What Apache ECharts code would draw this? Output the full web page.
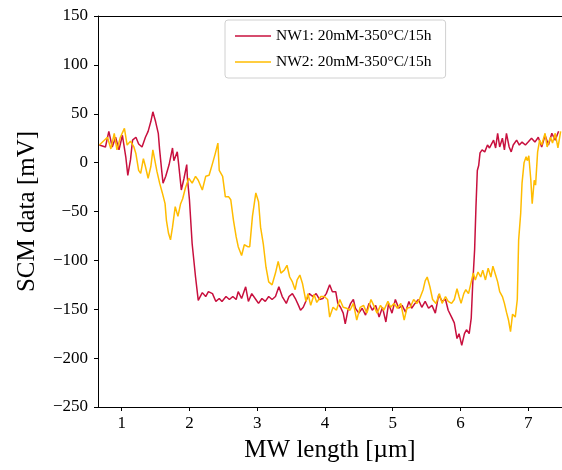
<!DOCTYPE html>
<html>
<head>
<meta charset="utf-8">
<script src="https://cdn.jsdelivr.net/npm/echarts@6/dist/echarts.min.js"></script>
<style>
  html, body { margin: 0; padding: 0; background: #fff; }
  #main { width: 562px; height: 470px; }
</style>
</head>
<body>
<div id="main"></div>
<script>
// NW1 trace (red)
var nw1X = [0.67, 0.76, 0.81, 0.86, 0.91, 0.96, 1.01, 1.06, 1.09, 1.13, 1.16, 1.21, 1.25, 1.30, 1.35, 1.39, 1.43, 1.46, 1.50, 1.54, 1.56, 1.59, 1.61, 1.65, 1.70, 1.75, 1.77, 1.82, 1.84, 1.88, 1.92, 1.96, 1.97, 2.00, 2.04, 2.09, 2.13, 2.19, 2.24, 2.28, 2.34, 2.39, 2.44, 2.48, 2.54, 2.59, 2.64, 2.69, 2.72, 2.77, 2.83, 2.87, 2.92, 2.98, 3.02, 3.07, 3.12, 3.17, 3.22, 3.27, 3.32, 3.37, 3.43, 3.47, 3.52, 3.57, 3.61, 3.64, 3.68, 3.73, 3.77, 3.82, 3.87, 3.92, 3.97, 4.02, 4.07, 4.11, 4.16, 4.19, 4.23, 4.27, 4.30, 4.34, 4.38, 4.42, 4.45, 4.50, 4.55, 4.60, 4.65, 4.70, 4.75, 4.80, 4.85, 4.90, 4.94, 4.99, 5.04, 5.09, 5.14, 5.19, 5.24, 5.28, 5.33, 5.38, 5.43, 5.48, 5.53, 5.58, 5.63, 5.68, 5.73, 5.78, 5.82, 5.87, 5.91, 5.95, 5.98, 6.02, 6.06, 6.09, 6.13, 6.16, 6.18, 6.21, 6.23, 6.25, 6.27, 6.29, 6.32, 6.36, 6.40, 6.43, 6.49, 6.52, 6.55, 6.58, 6.62, 6.65, 6.68, 6.72, 6.75, 6.78, 6.83, 6.87, 6.91, 6.96, 7.00, 7.05, 7.10, 7.15, 7.20, 7.25, 7.30, 7.35, 7.40, 7.45];
var nw1Y = [18, 16, 32, 16, 26, 13, 28, 6, -13, 3, 23, 26, 19, 16, 26, 32, 42, 52, 42, 30, 13, -8, -21, -14, -2, 15, 2, 11, -1, -28, -16, -2, -16, -38, -83, -117, -141, -133, -137, -132, -134, -142, -139, -142, -137, -140, -137, -140, -132, -139, -127, -142, -134, -140, -144, -139, -142, -137, -140, -137, -127, -137, -144, -137, -134, -140, -146, -151, -148, -140, -134, -137, -134, -140, -139, -134, -125, -132, -132, -144, -148, -154, -165, -151, -144, -140, -149, -154, -149, -156, -144, -151, -146, -158, -148, -163, -144, -154, -140, -149, -146, -153, -142, -149, -144, -140, -148, -142, -149, -146, -154, -135, -142, -140, -151, -158, -164, -180, -175, -187, -175, -171, -175, -159, -127, -89, -45, -8, -3, 10, 13, 11, 18, 15, 23, 15, 30, 16, 25, 13, 30, 16, 11, 18, 23, 18, 21, 18, 21, 25, 21, 26, 16, 28, 18, 30, 23, 32];

// NW2 trace (yellow)
var nw2X = [0.67, 0.79, 0.84, 0.89, 0.93, 0.98, 1.04, 1.08, 1.13, 1.18, 1.21, 1.25, 1.28, 1.32, 1.35, 1.39, 1.43, 1.46, 1.49, 1.52, 1.56, 1.60, 1.64, 1.66, 1.69, 1.72, 1.75, 1.79, 1.83, 1.87, 1.90, 1.94, 1.99, 2.04, 2.09, 2.13, 2.19, 2.24, 2.29, 2.34, 2.38, 2.42, 2.44, 2.49, 2.53, 2.58, 2.61, 2.65, 2.69, 2.72, 2.77, 2.81, 2.86, 2.89, 2.93, 2.98, 3.02, 3.05, 3.09, 3.13, 3.17, 3.22, 3.27, 3.31, 3.35, 3.40, 3.44, 3.48, 3.52, 3.56, 3.59, 3.63, 3.67, 3.72, 3.75, 3.79, 3.84, 3.88, 3.94, 3.99, 4.04, 4.07, 4.12, 4.17, 4.22, 4.27, 4.32, 4.37, 4.42, 4.47, 4.52, 4.57, 4.62, 4.68, 4.72, 4.77, 4.82, 4.87, 4.93, 4.97, 5.02, 5.07, 5.12, 5.17, 5.21, 5.26, 5.31, 5.36, 5.40, 5.45, 5.48, 5.51, 5.55, 5.59, 5.64, 5.69, 5.73, 5.78, 5.82, 5.87, 5.91, 5.95, 5.98, 6.01, 6.05, 6.08, 6.12, 6.16, 6.19, 6.22, 6.26, 6.30, 6.33, 6.37, 6.41, 6.45, 6.48, 6.52, 6.55, 6.58, 6.62, 6.65, 6.68, 6.71, 6.74, 6.77, 6.81, 6.84, 6.86, 6.89, 6.91, 6.94, 6.97, 6.99, 7.01, 7.04, 7.06, 7.09, 7.11, 7.14, 7.17, 7.20, 7.25, 7.28, 7.33, 7.36, 7.40, 7.44, 7.48];
var nw2Y = [18, 26, 14, 30, 13, 26, 35, 18, 22, 16, 9, -8, -11, 4, -4, -16, -4, 13, 2, -9, -21, -31, -42, -59, -72, -79, -66, -45, -55, -42, -37, -26, -16, -21, -14, -18, -28, -14, -13, -1, 9, 20, -8, -14, -35, -35, -38, -59, -76, -86, -95, -84, -86, -86, -55, -31, -40, -66, -83, -107, -122, -125, -113, -101, -113, -110, -105, -117, -122, -130, -120, -115, -124, -142, -134, -146, -135, -143, -137, -137, -140, -158, -148, -151, -140, -148, -149, -151, -144, -161, -148, -146, -154, -140, -146, -154, -146, -151, -142, -148, -144, -149, -144, -161, -149, -148, -140, -144, -139, -130, -121, -117, -127, -140, -144, -134, -144, -137, -142, -144, -140, -129, -137, -144, -134, -130, -134, -122, -113, -120, -112, -117, -110, -120, -108, -117, -106, -115, -122, -132, -137, -144, -153, -161, -173, -155, -158, -140, -79, -52, -21, 0, 6, 2, 7, -18, -42, -18, -23, 11, 23, 18, 30, 16, 26, 20, 30, 15, 32];

var xTicks = [1, 2, 3, 4, 5, 6, 7];
var seriesNames = ['NW1: 20mM-350°C/15h', 'NW2: 20mM-350°C/15h'];

function pairs(xs, ys) {
  return xs.map(function (x, i) { return [x, ys[i]]; });
}

var font = 'Liberation Serif';
var chart = echarts.init(document.getElementById('main'));

var option = {
  animation: false,
  textStyle: { fontFamily: font },
  grid: { left: 98, right: 0, top: 16, bottom: 63 },
  legend: {
    data: seriesNames,
    orient: 'vertical',
    left: 225,
    top: 20,
    icon: 'rect',
    itemWidth: 36,
    itemHeight: 1.5,
    itemGap: 10,
    padding: [8, 14, 8, 10],
    borderColor: '#d0d0d0',
    borderWidth: 1,
    borderRadius: 3,
    textStyle: { fontFamily: font, fontSize: 15.5, color: '#000' }
  },
  xAxis: [
    {
      type: 'value',
      min: 0.65,
      max: 7.5,
      name: 'MW length [µm]',
      nameLocation: 'middle',
      nameGap: 31,
      nameTextStyle: { fontFamily: font, fontSize: 25, color: '#000' },
      axisLine: { onZero: false, lineStyle: { color: '#000', width: 1 } },
      axisTick: { show: true, length: 4, customValues: xTicks, lineStyle: { color: '#000' } },
      axisLabel: { customValues: xTicks, fontFamily: font, fontSize: 17, color: '#000', margin: 8 },
      splitLine: { show: false }
    },
    {
      type: 'value',
      position: 'top',
      min: 0.65,
      max: 7.5,
      axisLine: { show: true, onZero: false, lineStyle: { color: '#000', width: 1 } },
      axisTick: { show: false },
      axisLabel: { show: false },
      splitLine: { show: false }
    }
  ],
  yAxis: {
    type: 'value',
    min: -250,
    max: 150,
    interval: 50,
    name: 'SCM data [mV]',
    nameLocation: 'middle',
    nameGap: 58,
    nameTextStyle: { fontFamily: font, fontSize: 25, color: '#000' },
    axisLine: { show: true, onZero: false, lineStyle: { color: '#000', width: 1 } },
    axisTick: { show: true, length: 4, lineStyle: { color: '#000' } },
    axisLabel: {
      fontFamily: font, fontSize: 17, color: '#000', margin: 10,
      formatter: function (v) { return v < 0 ? '\u2212' + Math.abs(v) : String(v); }
    },
    splitLine: { show: false }
  },
  series: [
    {
      name: seriesNames[0],
      type: 'line',
      showSymbol: false,
      symbol: 'none',
      color: '#C8103E',
      lineStyle: { width: 1.5, color: '#C8103E' },
      data: pairs(nw1X, nw1Y)
    },
    {
      name: seriesNames[1],
      type: 'line',
      showSymbol: false,
      symbol: 'none',
      color: '#FFBC00',
      lineStyle: { width: 1.5, color: '#FFBC00' },
      data: pairs(nw2X, nw2Y)
    }
  ]
};

chart.setOption(option);
</script>
</body>
</html>
